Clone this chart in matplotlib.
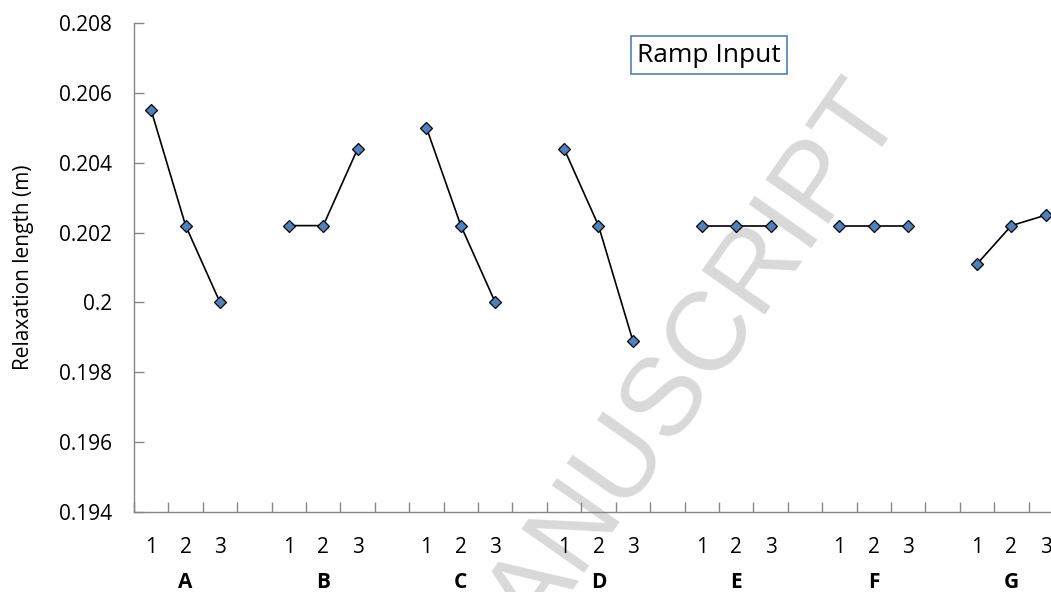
import matplotlib.pyplot as plt

# factor levels and mean relaxation length
groups = ["A", "B", "C", "D", "E", "F", "G"]
levels = ["1", "2", "3"]
relax_A = [0.2055, 0.2022, 0.2000]
relax_B = [0.2022, 0.2022, 0.2044]
relax_C = [0.2050, 0.2022, 0.2000]
relax_D = [0.2044, 0.2022, 0.1989]
relax_E = [0.2022, 0.2022, 0.2022]
relax_F = [0.2022, 0.2022, 0.2022]
relax_G = [0.2011, 0.2022, 0.2025]
yticks = [0.194, 0.196, 0.198, 0.200, 0.202, 0.204, 0.206, 0.208]

series = [relax_A, relax_B, relax_C, relax_D, relax_E, relax_F, relax_G]

plt.rcParams["font.family"] = ["Open Sans", "DejaVu Sans"]

fig = plt.figure(figsize=(10.51, 5.92), dpi=100)
ax = fig.add_axes([0.1275, 0.1351, 0.8839, 0.8260])
ax.patch.set_alpha(0)

# watermark behind the axes
fig.text(905 / 1051, 1 - 114 / 592, "ACCEPTED MANUSCRIPT", fontsize=80,
         family="Liberation Sans", color="#d9d9d9", rotation=55,
         rotation_mode="anchor", ha="right", va="baseline", zorder=-1)

step = len(levels) + 1
centers = []
for g, vals in enumerate(series):
    xs = [g * step + i + 0.5 for i in range(len(levels))]
    centers += xs
    ax.plot(xs, vals, color="black", lw=1.2, marker="D", markersize=6,
            markerfacecolor="#4f81bd", markeredgecolor="black",
            markeredgewidth=0.9, zorder=3)
    ax.text(xs[1], -0.145, groups[g], transform=ax.get_xaxis_transform(),
            ha="center", va="center", fontsize=15, fontweight="bold")

ax.set_xlim(0, len(groups) * step - 1)
ax.set_ylim(yticks[0], yticks[-1])
ax.set_yticks(yticks)
ax.set_yticklabels([f"{v:g}" for v in yticks])
ax.set_xticks(centers)
ax.set_xticklabels(levels * len(groups))
ax.set_xticks(range(len(groups) * step), minor=True)

ax.tick_params(axis="x", which="major", length=0, pad=18, labelsize=15)
ax.tick_params(axis="x", which="minor", direction="in", length=7,
               color="#868686", width=1)
ax.tick_params(axis="y", direction="in", length=7, color="#868686",
               width=1, pad=16, labelsize=15)

for side in ["top", "right"]:
    ax.spines[side].set_visible(False)
for side in ["left", "bottom"]:
    ax.spines[side].set_color("#868686")
    ax.spines[side].set_linewidth(1)

ax.set_ylabel("Relaxation length (m)", fontsize=15)
ax.yaxis.set_label_coords(-0.108, 0.5)

fig.text(709 / 1051, 1 - 55 / 592, "Ramp Input", fontsize=19,
         ha="center", va="center",
         bbox=dict(boxstyle="square,pad=0.25", facecolor="white",
                   edgecolor="#4f81bd", linewidth=1.2))

fig.savefig("out.png", dpi=100)
